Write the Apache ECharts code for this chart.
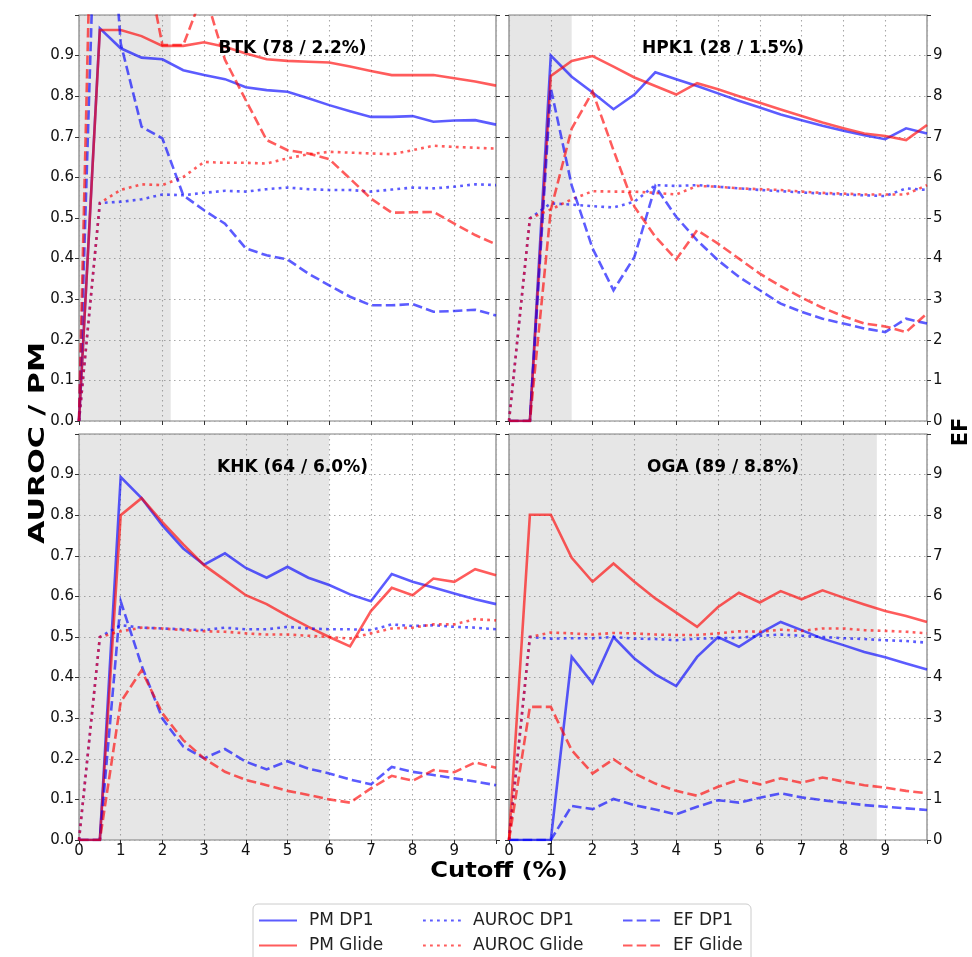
<!DOCTYPE html>
<html>
<head>
<meta charset="utf-8">
<script src="https://cdn.jsdelivr.net/npm/echarts@6/dist/echarts.min.js"></script>
<style>
html,body{margin:0;padding:0;background:#fff;}
#chart{width:972px;height:957px;}
</style>
</head>
<body>
<div id="chart"></div>
<script>
// ---------------- data ----------------
const cutoffs = [0,0.5,1,1.5,2,2.5,3,3.5,4,4.5,5,5.5,6,6.5,7,7.5,8,8.5,9,9.5,10];
const xTickLabels = ['0','1','2','3','4','5','6','7','8','9'];
const leftTickLabels = ['0.0','0.1','0.2','0.3','0.4','0.5','0.6','0.7','0.8','0.9'];
const rightTickLabels = ['0','1','2','3','4','5','6','7','8','9'];

const panelTitles = ['BTK (78 / 2.2%)','HPK1 (28 / 1.5%)','KHK (64 / 6.0%)','OGA (89 / 8.8%)'];
const shadeCutoffs = [2.2, 1.5, 6.0, 8.8];
const seriesNames = ['PM DP1','PM Glide','AUROC DP1','AUROC Glide','EF DP1','EF Glide'];

// BTK
const btkPmDp1 = [0,0.967,0.918,0.895,0.891,0.864,0.852,0.842,0.822,0.815,0.811,0.795,0.778,0.763,0.749,0.749,0.751,0.737,0.740,0.741,0.730];
const btkPmGlide = [0,0.963,0.963,0.948,0.924,0.924,0.933,0.922,0.905,0.891,0.887,0.885,0.883,0.873,0.862,0.852,0.852,0.852,0.844,0.836,0.826];
const btkAurocDp1 = [0,0.537,0.540,0.546,0.558,0.556,0.562,0.567,0.565,0.571,0.575,0.571,0.569,0.569,0.565,0.570,0.575,0.573,0.577,0.583,0.581];
const btkAurocGlide = [0,0.537,0.569,0.583,0.581,0.601,0.638,0.636,0.636,0.634,0.647,0.657,0.663,0.661,0.659,0.657,0.667,0.678,0.675,0.673,0.671];
const btkEfDp1 = [0,16.5,9.3,7.25,6.96,5.56,5.19,4.86,4.25,4.08,3.98,3.63,3.34,3.06,2.85,2.85,2.88,2.69,2.71,2.74,2.60];
const btkEfGlide = [0,22,16,11.9,9.26,9.26,10.6,8.9,7.9,6.92,6.67,6.59,6.45,5.97,5.48,5.13,5.14,5.15,4.86,4.58,4.35];

// HPK1
const hpkPmDp1 = [0,0,0.900,0.848,0.809,0.768,0.804,0.859,0.842,0.825,0.807,0.789,0.772,0.755,0.741,0.727,0.715,0.704,0.694,0.721,0.708];
const hpkPmGlide = [0,0,0.850,0.887,0.899,0.873,0.846,0.825,0.804,0.832,0.817,0.800,0.784,0.767,0.751,0.735,0.721,0.708,0.702,0.692,0.729];
const hpkAurocDp1 = [0,0.499,0.536,0.533,0.529,0.526,0.540,0.581,0.579,0.581,0.577,0.573,0.569,0.566,0.563,0.560,0.558,0.556,0.554,0.573,0.569];
const hpkAurocGlide = [0,0.499,0.521,0.546,0.566,0.565,0.565,0.562,0.558,0.579,0.577,0.573,0.571,0.569,0.565,0.562,0.560,0.558,0.558,0.558,0.581];
const hpkEfDp1 = [0,0,8.2,5.8,4.25,3.22,4.04,5.78,5.03,4.45,3.96,3.55,3.22,2.89,2.69,2.52,2.40,2.28,2.19,2.52,2.40];
const hpkEfGlide = [0,0,5.2,7.2,8.11,6.67,5.28,4.54,3.98,4.70,4.37,4.0,3.63,3.32,3.04,2.79,2.58,2.40,2.33,2.19,2.65];

// KHK
const khkPmDp1 = [0,0,0.894,0.842,0.775,0.718,0.678,0.706,0.670,0.646,0.673,0.646,0.628,0.605,0.588,0.655,0.636,0.622,0.607,0.593,0.581];
const khkPmGlide = [0,0,0.800,0.842,0.783,0.728,0.677,0.640,0.603,0.581,0.552,0.525,0.500,0.477,0.564,0.621,0.603,0.644,0.636,0.667,0.652];
const khkAurocDp1 = [0,0.500,0.529,0.523,0.521,0.519,0.517,0.523,0.519,0.519,0.525,0.521,0.519,0.519,0.517,0.531,0.527,0.529,0.525,0.523,0.519];
const khkAurocGlide = [0,0.500,0.514,0.523,0.521,0.517,0.514,0.513,0.509,0.506,0.506,0.503,0.500,0.496,0.509,0.521,0.523,0.531,0.531,0.544,0.541];
const khkEfDp1 = [0,0,5.88,4.3,2.99,2.30,2.01,2.24,1.93,1.74,1.94,1.76,1.64,1.49,1.37,1.80,1.68,1.60,1.52,1.44,1.35];
const khkEfGlide = [0,0,3.40,4.18,3.12,2.46,2.01,1.68,1.48,1.35,1.21,1.11,1.00,0.92,1.27,1.58,1.46,1.72,1.67,1.91,1.78];

// OGA
const ogaPmDp1 = [0,0,0,0.451,0.386,0.500,0.447,0.408,0.379,0.451,0.500,0.476,0.509,0.537,0.517,0.496,0.480,0.463,0.450,0.435,0.420];
const ogaPmGlide = [0,0.801,0.801,0.695,0.636,0.681,0.636,0.595,0.560,0.525,0.574,0.609,0.585,0.613,0.593,0.615,0.597,0.580,0.564,0.552,0.537];
const ogaAurocDp1 = [0,0.500,0.496,0.497,0.497,0.500,0.496,0.495,0.492,0.496,0.497,0.498,0.503,0.506,0.503,0.500,0.497,0.495,0.492,0.490,0.486];
const ogaAurocGlide = [0,0.500,0.511,0.509,0.506,0.510,0.509,0.506,0.505,0.505,0.509,0.514,0.513,0.518,0.515,0.521,0.521,0.517,0.515,0.513,0.509];
const ogaEfDp1 = [0,0,0,0.84,0.76,1.01,0.86,0.75,0.63,0.82,0.98,0.92,1.04,1.15,1.05,0.98,0.92,0.86,0.82,0.78,0.74];
const ogaEfGlide = [0,3.28,3.28,2.21,1.64,1.99,1.64,1.39,1.21,1.09,1.31,1.49,1.37,1.52,1.41,1.54,1.44,1.35,1.29,1.21,1.15];

const panels = [
  [btkPmDp1, btkPmGlide, btkAurocDp1, btkAurocGlide, btkEfDp1, btkEfGlide],
  [hpkPmDp1, hpkPmGlide, hpkAurocDp1, hpkAurocGlide, hpkEfDp1, hpkEfGlide],
  [khkPmDp1, khkPmGlide, khkAurocDp1, khkAurocGlide, khkEfDp1, khkEfGlide],
  [ogaPmDp1, ogaPmGlide, ogaAurocDp1, ogaAurocGlide, ogaEfDp1, ogaEfGlide]
];

// ---------------- styling / layout ----------------
const FONT = 'DejaVu Sans';
const BLUE = 'rgba(0,0,255,0.64)';
const RED = 'rgba(255,0,0,0.64)';
const LW = 2.6;
const styles = [
  {color: BLUE, type: 'solid', axis: 0},
  {color: RED, type: 'solid', axis: 0},
  {color: BLUE, type: [2.8, 4.2], axis: 0},
  {color: RED, type: [2.8, 4.2], axis: 0},
  {color: BLUE, type: [9.5, 4.2], axis: 1},
  {color: RED, type: [9.5, 4.2], axis: 1}
];
const gridBoxes = [
  {left: 79, top: 15, width: 417, height: 406},
  {left: 509, top: 15, width: 418, height: 406},
  {left: 79, top: 434, width: 417, height: 406},
  {left: 509, top: 434, width: 418, height: 406}
];

const grids = [], xAxes = [], yAxes = [], series = [], titles = [];
gridBoxes.forEach((g, p) => {
  const isBottom = p >= 2, isLeft = p % 2 === 0;
  grids.push(Object.assign({show: true, borderColor: '#808080', borderWidth: 1.2, backgroundColor: 'transparent'}, g));
  xAxes.push({
    type: 'value', gridIndex: p, min: 0, max: 10, interval: 1,
    axisLine: {show: false},
    axisTick: {show: true, length: 4, lineStyle: {color: '#333'}},
    axisLabel: {show: isBottom, fontFamily: FONT, fontSize: 15, color: '#111', margin: 4,
      formatter: v => (v >= 0 && v < 10) ? xTickLabels[Math.round(v)] : ''},
    splitLine: {show: true, lineStyle: {color: '#a8a8a8', width: 1.1, type: [1.5, 3.5]}}
  });
  yAxes.push({
    type: 'value', gridIndex: p, position: 'left', min: 0, max: 1, interval: 0.1,
    axisLine: {show: false},
    axisTick: {show: true, length: 4, lineStyle: {color: '#333'}},
    axisLabel: {show: isLeft, fontFamily: FONT, fontSize: 15, color: '#111', margin: 5,
      formatter: v => { const i = Math.round(v * 10); return i < 10 ? leftTickLabels[i] : ''; }},
    splitLine: {show: true, lineStyle: {color: '#a8a8a8', width: 1.1, type: [1.5, 3.5]}}
  });
  yAxes.push({
    type: 'value', gridIndex: p, position: 'right', min: 0, max: 10, interval: 1,
    axisLine: {show: false},
    axisTick: {show: true, length: 4, lineStyle: {color: '#333'}},
    axisLabel: {show: !isLeft, fontFamily: FONT, fontSize: 15, color: '#111', margin: 6,
      formatter: v => { const i = Math.round(v); return i < 10 ? rightTickLabels[i] : ''; }},
    splitLine: {show: false}
  });
  panels[p].forEach((vals, k) => {
    const st = styles[k];
    const s = {
      name: seriesNames[k], type: 'line', xAxisIndex: p, yAxisIndex: 2 * p + st.axis,
      symbol: 'none', clip: true, animation: false,
      data: cutoffs.map((c, i) => [c, vals[i]]),
      lineStyle: {color: st.color, width: LW, type: st.type, cap: 'butt', join: 'miter'},
      itemStyle: {color: st.color},
      z: 3
    };
    if (k === 0) {
      s.markArea = {silent: true, itemStyle: {color: 'rgba(128,128,128,0.2)'},
        data: [[{xAxis: 0}, {xAxis: shadeCutoffs[p]}]]};
    }
    series.push(s);
  });
  titles.push({
    text: panelTitles[p], left: g.left + g.width / 2, top: g.top + 20, textAlign: 'center',
    textStyle: {fontFamily: FONT, fontWeight: 'bold', fontSize: 17, color: '#000'}
  });
});

const legendCols = [
  {x: 258, names: ['PM DP1', 'PM Glide']},
  {x: 422, names: ['AUROC DP1', 'AUROC Glide']},
  {x: 622, names: ['EF DP1', 'EF Glide']}
];
const legendRowsY = [921, 946];
const legends = [];
legendCols.forEach(col => {
  col.names.forEach((n, r) => {
    legends.push({
      data: [n], left: col.x, top: legendRowsY[r] - 9, itemWidth: 38, itemHeight: 12,
      padding: 0, selectedMode: false,
      itemStyle: {color: 'rgba(0,0,0,0)', borderWidth: 0, opacity: 0},
      textStyle: {fontFamily: FONT, fontSize: 17, color: '#222', padding: [0, 0, 0, 7]}
    });
  });
});

const option = {
  animation: false,
  backgroundColor: '#fff',
  title: titles,
  grid: grids,
  xAxis: xAxes,
  yAxis: yAxes,
  legend: legends,
  series: series,
  graphic: [
    {type: 'rect', shape: {x: 253, y: 904, width: 498, height: 70, r: 5},
      style: {fill: '#fff', stroke: '#cccccc', lineWidth: 1}, z: 0},
    {type: 'text', x: 38, y: 443, rotation: Math.PI / 2, scaleX: 1.37,
      style: {text: 'AUROC / PM', fontFamily: FONT, fontWeight: 'bold', fontSize: 22, fill: '#000',
        textAlign: 'center', textVerticalAlign: 'middle'}},
    {type: 'text', x: 962, y: 432, rotation: Math.PI / 2,
      style: {text: 'EF', fontFamily: FONT, fontWeight: 'bold', fontSize: 21, fill: '#000',
        textAlign: 'center', textVerticalAlign: 'middle'}},
    {type: 'text', x: 499, y: 871, scaleX: 1.1,
      style: {text: 'Cutoff (%)', fontFamily: FONT, fontWeight: 'bold', fontSize: 22, fill: '#000',
        textAlign: 'center', textVerticalAlign: 'middle'}}
  ]
};

const chart = echarts.init(document.getElementById('chart'), null, {renderer: 'canvas'});
chart.setOption(option);
</script>
</body>
</html>
